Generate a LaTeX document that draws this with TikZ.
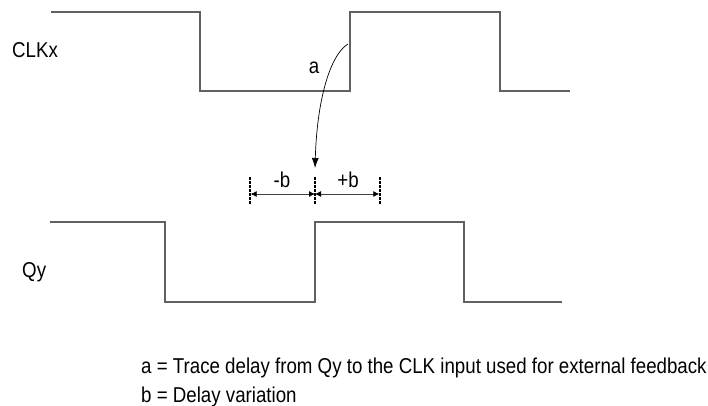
\documentclass[tikz,border=0pt]{standalone}
\usepackage{fontspec}
\setmainfont{Liberation Sans}[FakeStretch=0.87]
\usetikzlibrary{arrows.meta}
\begin{document}
\begin{tikzpicture}[x=1pt,y=-1pt,
  wave/.style={draw=black!62, line width=1.5pt},
  tick/.style={draw=black, dash pattern=on 2.5pt off 1.5pt, line width=1.3pt},
  dim/.style={draw=black!75, line width=0.8pt, {Latex[length=6pt,width=6pt,black]}-{Latex[length=6pt,width=6pt,black]}},
  lbl/.style={font=\fontsize{21.5}{25}\selectfont, inner sep=0pt},
  leg/.style={font=\fontsize{21.5}{25}\selectfont, inner sep=0pt, anchor=base west}]
\useasboundingbox (0,0) rectangle (708,406);
% CLKx waveform
\draw[wave] (51,12) -- (200,12) -- (200,91) -- (350,91) -- (350,12) -- (500,12) -- (500,91) -- (570,91);
% Qy waveform
\draw[wave] (50,222) -- (165,222) -- (165,302) -- (315,302) -- (315,222) -- (464,222) -- (464,302) -- (562,302);
% labels
\node[lbl] (clk) at (35,50) {CLKx};
\node[lbl, anchor=base west] (qy) at (22,277) {Qy};
\node[lbl] (a) at (314,68) {a};
% curved arrow
\coordinate (cs) at (348,44);
\coordinate (ce) at (315,168);
\draw[line width=0.7pt, -{Latex[length=10pt,width=7pt]}] (cs) .. controls (330,55) and (317,100) .. (ce);
% dimension ticks
\coordinate (t1a) at (250,177); \coordinate (t1b) at (250,205);
\coordinate (t2a) at (315,177); \coordinate (t2b) at (315,205);
\coordinate (t3a) at (380,177); \coordinate (t3b) at (380,205);
\draw[tick] (t1a) -- (t1b);
\draw[tick] (t2a) -- (t2b);
\draw[tick] (t3a) -- (t3b);
\coordinate (d1) at (250.7,194); \coordinate (d2) at (315,194); \coordinate (d3) at (379.3,194);
\draw[dim] (d1) -- (d2);
\draw[dim] (d2) -- (d3);
\node[lbl, anchor=base] (mb) at (282,187) {-b};
\node[lbl, anchor=base] (pb) at (348,187) {+b};
% legend
\node[leg] (la) at (141,373) {a = Trace delay from Qy to the CLK input used for external feedback};
\node[leg] (lb) at (141,402) {b = Delay variation};
\end{tikzpicture}
\end{document}
